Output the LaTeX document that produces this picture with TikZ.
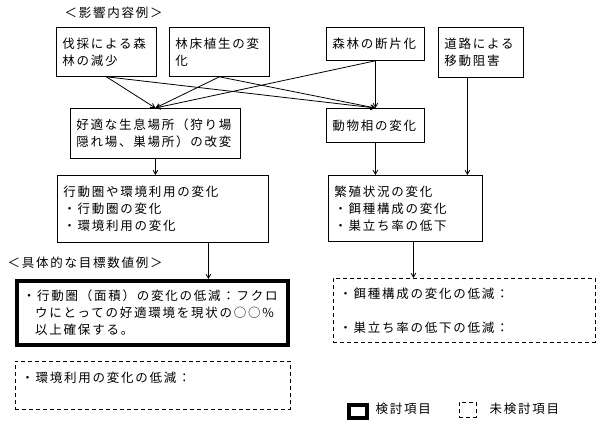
\documentclass[tikz,border=0pt]{standalone}
\usepackage{fontspec}
\newfontfamily\jpfont[LetterSpace=14]{Noto Sans CJK JP}
\usepackage{tikz}
\usetikzlibrary{arrows,calc}

\begin{document}
\begin{tikzpicture}[>=angle 60,x=1pt,y=-1pt,line width=0.8pt,
                    font=\jpfont\fontsize{12.5}{17}\selectfont]
  \tikzstyle{box}=[draw=black,anchor=north west,align=left,inner xsep=6pt,inner ysep=0pt]
  \tikzstyle{target}=[box,line width=3.5pt]
  \tikzstyle{open}=[box,dash pattern=on 4pt off 3pt]
  \useasboundingbox (0,0) rectangle (607,430);

  \node[anchor=west]    (T1) at (61,13)    {＜影響内容例＞};
  \node[box,text width=88,minimum height=49]  (A) at (56,27)   {伐採による森\\林の減少};
  \node[box,text width=88,minimum height=49]  (B) at (169,27)  {林床植生の変\\化};
  \node[box,text width=86,minimum height=33]  (C) at (326,27)  {森林の断片化};
  \node[box,text width=73,minimum height=50]  (D) at (438,27)  {道路による\\移動阻害};
  \node[box,text width=158,minimum height=50] (E) at (70,108)  {好適な生息場所（狩り場\\隠れ場、巣場所）の改変};
  \node[box,text width=86,minimum height=34]  (F) at (326,108) {動物相の変化};
  \node[box,text width=199,minimum height=67] (G) at (57,175)  {行動圏や環境利用の変化\\・行動圏の変化\\・環境利用の変化};
  \node[box,text width=142,minimum height=66] (H) at (328,175) {繁殖状況の変化\\・餌種構成の変化\\・巣立ち率の低下};

  \node[anchor=west]    (T2) at (4,263)    {＜具体的な目標数値例＞};
  \node[target,text width=259,minimum height=64] (I) at (15,279) {・行動圏（面積）の変化の低減：フクロ\\\phantom{・}ウにとっての好適環境を現状の○○\%\\\phantom{・}以上確保する。};
  \node[open,text width=250,minimum height=64]   (J) at (333,278) {・餌種構成の変化の低減：\\\mbox{}\\・巣立ち率の低下の低減：};
  \node[open,text width=263,minimum height=48]   (K) at (15,361)  {・環境利用の変化の低減：\\\mbox{}};

  % legend
  \node[draw=black,line width=3.5pt,anchor=north west,minimum width=18,minimum height=13,inner sep=0pt] (L1) at (347,403) {};
  \node[anchor=west] (L1t) at (372,409) {検討項目};
  \node[draw=black,dash pattern=on 4pt off 3pt,anchor=north west,minimum width=17,minimum height=15,inner sep=0pt] (L2) at (459,402) {};
  \node[anchor=west] (L2t) at (486,409) {未検討項目};

  \path[->] (A.south) edge (E.north)
                      edge (F.north)
            (B.south) edge (E.north)
                      edge (F.north)
            (C.south) edge (E.north)
                      edge (F.north);
  \draw[->] (E.south) -- (E.south |- G.north);
  \draw[->] (F.south) -- (F.south |- H.north);
  \draw[->] ([xshift=-13.5pt]D.south) -- ([xshift=-13.5pt]D.south |- H.north);
  \draw[->] ([xshift=45.5pt]G.south) -- ([xshift=45.5pt]G.south |- I.north);
  \draw[->] ([xshift=8pt]H.south) -- ([xshift=8pt]H.south |- J.north);
\end{tikzpicture}
\end{document}
